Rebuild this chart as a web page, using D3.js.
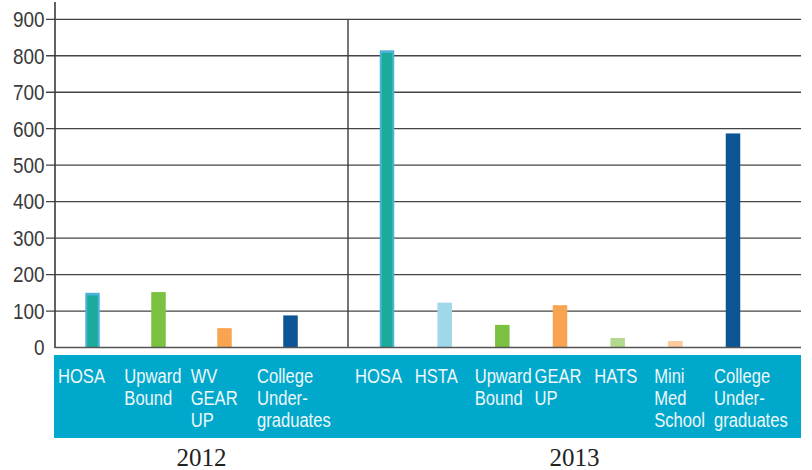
<!DOCTYPE html>
<html>
<head>
<meta charset="utf-8">
<script src="https://cdn.jsdelivr.net/npm/d3@7"></script>
<style>
  body { margin: 0; background: #fff; }
  svg { display: block; }
</style>
</head>
<body>
<div id="chart"></div>
<script>
// categories and values
var cats2012 = ['HOSA', 'Upward Bound', 'WV GEAR UP', 'College Undergraduates'];
var vals2012 = [150, 152, 53, 88];
var lines2012 = [['HOSA'], ['Upward', 'Bound'], ['WV', 'GEAR', 'UP'], ['College', 'Under-', 'graduates']];
var colors2012 = ['#1bab9a', '#7bc142', '#f9a450', '#0d5495'];

var cats2013 = ['HOSA', 'HSTA', 'Upward Bound', 'GEAR UP', 'HATS', 'Mini Med School', 'College Undergraduates'];
var vals2013 = [815, 123, 62, 116, 26, 18, 587];
var lines2013 = [['HOSA'], ['HSTA'], ['Upward', 'Bound'], ['GEAR', 'UP'], ['HATS'], ['Mini', 'Med', 'School'], ['College', 'Under-', 'graduates']];
var colors2013 = ['#1bab9a', '#9ed8ea', '#7bc142', '#f9a450', '#b2d98d', '#fdca9c', '#0d5495'];

var years = ['2012', '2013'];
var yTicks = [0, 100, 200, 300, 400, 500, 600, 700, 800, 900];

var W = 812, H = 470;
var plotLeft = 55, divider = 348, plotRight = 801;
var base = 347.5, plotTop = 19.3;
var narrow = 'Liberation Sans, Arial, sans-serif';

var svg = d3.select('#chart').append('svg')
  .attr('width', W)
  .attr('height', H);

var y = d3.scaleLinear()
  .domain([0, 900])
  .range([base, plotTop]);

// gridlines + ticks
svg.append('g').selectAll('line')
  .data(yTicks.slice(1))
  .enter().append('line')
    .attr('x1', plotLeft - 9)
    .attr('x2', plotRight)
    .attr('y1', function(d) { return y(d); })
    .attr('y2', function(d) { return y(d); })
    .attr('stroke', '#444')
    .attr('stroke-width', 1.3);

svg.append('g').selectAll('text')
  .data(yTicks)
  .enter().append('text')
    .attr('transform', function(d) { return 'translate(44.5,' + (y(d) + 7.8) + ') scale(0.86,1)'; })
    .attr('text-anchor', 'end')
    .attr('font-family', narrow)
    .attr('font-size', '22px')
    .attr('fill', '#3a3a3a')
    .text(function(d) { return d; });

// label band
svg.append('rect')
  .attr('x', plotLeft - 1)
  .attr('y', 355)
  .attr('width', plotRight - plotLeft + 1)
  .attr('height', 83)
  .attr('fill', '#00a8cb');

var groups = [
  {year: years[0], cats: cats2012, vals: vals2012, lines: lines2012, colors: colors2012,
   x0: plotLeft, x1: divider, bar: [92.5, 290.5], lab: [58, 257]},
  {year: years[1], cats: cats2013, vals: vals2013, lines: lines2013, colors: colors2013,
   x0: divider, x1: plotRight, bar: [387, 733], lab: [355, 714]}
];

var barW = 14.5;

groups.forEach(function(g) {
  var x = d3.scalePoint().domain(g.cats).range(g.bar);
  var xl = d3.scalePoint().domain(g.cats).range(g.lab);
  var data = g.cats.map(function(c, i) {
    return {cat: c, val: g.vals[i], lines: g.lines[i], color: g.colors[i]};
  });

  var bars = svg.append('g');
  bars.selectAll('rect.bar')
    .data(data)
    .enter().append('rect')
      .attr('class', 'bar')
      .attr('x', function(d) { return x(d.cat) - barW / 2; })
      .attr('y', function(d) { return y(d.val); })
      .attr('width', barW)
      .attr('height', function(d) { return base - y(d.val); })
      .attr('fill', function(d) { return d.cat == 'HOSA' ? '#4db2d9' : d.color; });

  // HOSA bars have a teal core inside the blue outline
  bars.selectAll('rect.core')
    .data(data.filter(function(d) { return d.cat == 'HOSA'; }))
    .enter().append('rect')
      .attr('class', 'core')
      .attr('x', function(d) { return x(d.cat) - barW / 2 + 2; })
      .attr('y', function(d) { return y(d.val) + 2.7; })
      .attr('width', barW - 4)
      .attr('height', function(d) { return base - y(d.val) - 2.7; })
      .attr('fill', function(d) { return d.color; });

  var labs = svg.append('g').selectAll('text')
    .data(data)
    .enter().append('text')
      .attr('transform', function(d) { return 'translate(' + xl(d.cat) + ',382.7) scale(0.79,1)'; })
      .attr('font-family', narrow)
      .attr('font-size', '21px')
      .attr('fill', '#eef7fa');
  labs.selectAll('tspan')
    .data(function(d) { return d.lines; })
    .enter().append('tspan')
      .attr('x', 0)
      .attr('dy', function(d, i) { return i ? 22.3 : 0; })
      .text(function(d) { return d; });

  svg.append('text')
    .attr('x', (g.x0 + g.x1) / 2)
    .attr('y', 466)
    .attr('text-anchor', 'middle')
    .attr('font-family', '"Liberation Serif", "Times New Roman", serif')
    .attr('font-size', '25px')
    .attr('fill', '#222')
    .text(g.year);
});

// axis, divider, baseline
svg.append('line')
  .attr('x1', plotLeft).attr('x2', plotLeft)
  .attr('y1', 2).attr('y2', base + 0.5)
  .attr('stroke', '#3a3a3a').attr('stroke-width', 1.6);
svg.append('line')
  .attr('x1', divider).attr('x2', divider)
  .attr('y1', plotTop).attr('y2', base)
  .attr('stroke', '#3a3a3a').attr('stroke-width', 1.4);
svg.append('line')
  .attr('x1', plotLeft).attr('x2', plotRight)
  .attr('y1', base).attr('y2', base)
  .attr('stroke', '#555').attr('stroke-width', 1.6);
</script>
</body>
</html>
